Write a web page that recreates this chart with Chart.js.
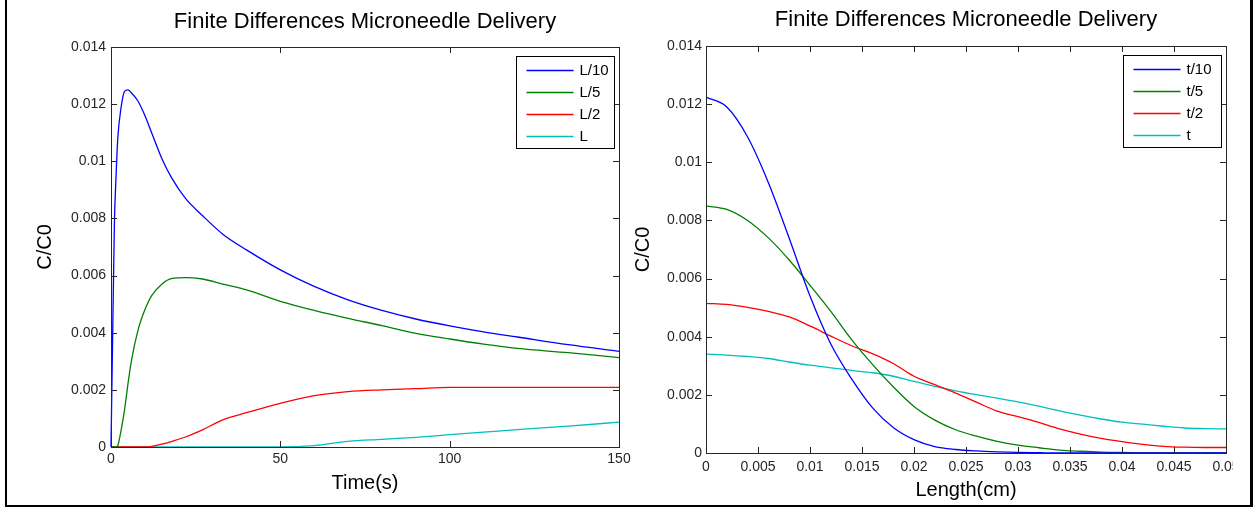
<!DOCTYPE html>
<html>
<head>
<meta charset="utf-8">
<title>Finite Differences Microneedle Delivery</title>
<script src="https://cdn.jsdelivr.net/npm/chart.js@4.4.1/dist/chart.umd.min.js"></script>
<style>
  html, body { margin: 0; padding: 0; background: #fff; }
  #page { position: relative; width: 1259px; height: 508px; overflow: hidden; background: #fff; }
  #frame { position: absolute; left: 5px; top: -10px; width: 1243px; height: 513px;
           border: 2px solid #000; border-right-width: 3px; }
  canvas { position: absolute; top: 0; }
  #timeChart { left: 0; }
  #lengthChart { left: 620px; }
</style>
</head>
<body>
<div id="page">
  <div id="frame"></div>
  <canvas id="timeChart" width="640" height="508" style="width:640px;height:508px"></canvas>
  <canvas id="lengthChart" width="613" height="508" style="width:613px;height:508px"></canvas>
</div>
<script>
// ---- left plot: concentration vs time at four depths ----
var time = [0, 0.5, 1, 1.5, 2, 3, 4, 5, 6, 8, 10, 12, 15, 18, 22, 27, 33, 40, 50, 60, 70, 80, 90, 100, 110, 120, 135, 150];
var depthL10 = [0, 0.004, 0.0078, 0.0095, 0.0108, 0.0119, 0.01245, 0.0125, 0.0124, 0.0121, 0.0116, 0.011, 0.0101, 0.0094, 0.0087, 0.0081, 0.00745, 0.0069, 0.0062, 0.00562, 0.00515, 0.00478, 0.00448, 0.00424, 0.00403, 0.00385, 0.00358, 0.00335];
var depthL5 = [0, 0, 0, 0, 0.00005, 0.0006, 0.0013, 0.0022, 0.003, 0.0041, 0.0048, 0.0053, 0.0057, 0.0059, 0.00593, 0.00588, 0.0057, 0.0055, 0.0051, 0.00478, 0.0045, 0.00425, 0.00398, 0.00378, 0.0036, 0.00345, 0.0033, 0.00313];
var depthL2 = [0, 0, 0, 0, 0, 0, 0, 0, 0, 0, 0, 0.00002, 0.0001, 0.0002, 0.00035, 0.0006, 0.00095, 0.0012, 0.00153, 0.0018, 0.00194, 0.002, 0.00204, 0.00209, 0.00209, 0.00209, 0.00209, 0.00209];
var depthL = [0, 0, 0, 0, 0, 0, 0, 0, 0, 0, 0, 0, 0, 0, 0, 0, 0, 0, 0, 0.00005, 0.0002, 0.00027, 0.00034, 0.00043, 0.00052, 0.00061, 0.00073, 0.00087];

// ---- right plot: concentration profile along the needle at four times ----
var len = [0, 0.002, 0.004, 0.006, 0.008, 0.01, 0.012, 0.014, 0.016, 0.018, 0.02, 0.022, 0.024, 0.026, 0.028, 0.03, 0.032, 0.034, 0.036, 0.038, 0.04, 0.042, 0.044, 0.046, 0.048, 0.05];
var timeT10 = [0.01224, 0.0119, 0.01087, 0.0093, 0.00739, 0.0054, 0.00375, 0.00255, 0.00156, 0.00088, 0.00046, 0.00022, 0.00012, 0.00007, 0.00004, 0.00002, 0.00001, 0, 0, 0, 0, 0, 0, 0, 0, 0];
var timeT5 = [0.0085, 0.00838, 0.008, 0.0074, 0.00664, 0.00577, 0.00487, 0.0039, 0.00305, 0.00228, 0.0016, 0.00113, 0.0008, 0.00058, 0.0004, 0.00027, 0.00018, 0.0001, 0.00006, 0.00003, 0.00002, 0, 0, 0, 0, 0];
var timeT2 = [0.00515, 0.00511, 0.00501, 0.00487, 0.00468, 0.00437, 0.00402, 0.00369, 0.00342, 0.00308, 0.00264, 0.00235, 0.00206, 0.00175, 0.00144, 0.00125, 0.00105, 0.00083, 0.00065, 0.0005, 0.00039, 0.0003, 0.00023, 0.0002, 0.00019, 0.00019];
var timeT = [0.0034, 0.00337, 0.00332, 0.00325, 0.00313, 0.00302, 0.00293, 0.00284, 0.00276, 0.00264, 0.00246, 0.00229, 0.00214, 0.00201, 0.00189, 0.00176, 0.00161, 0.00145, 0.0013, 0.00117, 0.00106, 0.00099, 0.00092, 0.00086, 0.00084, 0.00083];

// ---- ticks ----
var yTickLabels = ['0', '0.002', '0.004', '0.006', '0.008', '0.01', '0.012', '0.014'];
var timeTickLabels = ['0', '50', '100', '150'];
var lenTickLabels = ['0', '0.005', '0.01', '0.015', '0.02', '0.025', '0.03', '0.035', '0.04', '0.045', '0.05'];

var colors = ['#0000ff', '#008000', '#ff0000', '#00bfbf'];
var ink = '#262626';

Chart.defaults.font.family = "'Liberation Sans', Arial, Helvetica, sans-serif";
Chart.defaults.color = ink;

function pairs(xs, ys) {
  return xs.map(function (x, i) { return { x: x, y: ys[i] }; });
}

function series(label, xs, ys, color) {
  return {
    label: label,
    data: pairs(xs, ys),
    borderColor: color,
    backgroundColor: color,
    borderWidth: 1.3,
    pointRadius: 0,
    cubicInterpolationMode: 'monotone',
    clip: 3
  };
}

// matlab style box, inward ticks on all four sides, legend inside top right
var matlabBox = {
  id: 'matlabBox',
  afterDraw: function (chart) {
    var ctx = chart.ctx, a = chart.chartArea;
    var xs = chart.scales.x, ys = chart.scales.y;
    ctx.save();
    ctx.strokeStyle = ink;
    ctx.lineWidth = 1;
    ctx.beginPath();
    xs.ticks.forEach(function (t) {
      var px = Math.round(xs.getPixelForValue(t.value)) + 0.5;
      ctx.moveTo(px, a.bottom); ctx.lineTo(px, a.bottom - 6);
      ctx.moveTo(px, a.top); ctx.lineTo(px, a.top + 6);
    });
    ys.ticks.forEach(function (t) {
      var py = Math.round(ys.getPixelForValue(t.value)) + 0.5;
      ctx.moveTo(a.left, py); ctx.lineTo(a.left + 6, py);
      ctx.moveTo(a.right, py); ctx.lineTo(a.right - 6, py);
    });
    ctx.stroke();
    ctx.strokeRect(Math.round(a.left) + 0.5, Math.round(a.top) + 0.5,
      Math.round(a.right - a.left), Math.round(a.bottom - a.top));

    // legend
    var w = 98, h = 92;
    var bx = Math.round(a.right - 5 - w) + 0.5, by = Math.round(a.top + 9) + 0.5;
    ctx.fillStyle = '#fff';
    ctx.fillRect(bx, by, w, h);
    ctx.strokeStyle = '#000';
    ctx.strokeRect(bx, by, w, h);
    ctx.font = "15px 'Liberation Sans', Arial, sans-serif";
    ctx.textBaseline = 'middle';
    ctx.textAlign = 'left';
    chart.data.datasets.forEach(function (ds, i) {
      var ry = Math.round(by + 13 + i * 22) + 0.5;
      ctx.strokeStyle = ds.borderColor;
      ctx.lineWidth = 1.5;
      ctx.beginPath();
      ctx.moveTo(bx + 10, ry); ctx.lineTo(bx + 57, ry);
      ctx.stroke();
      ctx.fillStyle = '#000';
      ctx.fillText(ds.label, bx + 63, ry);
    });
    ctx.restore();
  }
};

function makeChart(id, o) {
  return new Chart(document.getElementById(id), {
    type: 'line',
    data: { datasets: o.datasets },
    plugins: [matlabBox],
    options: {
      responsive: false,
      animation: false,
      layout: { padding: { left: 0, right: o.padRight, top: 0, bottom: 0 } },
      plugins: {
        legend: { display: false },
        tooltip: { enabled: false },
        title: {
          display: true,
          text: 'Finite Differences Microneedle Delivery',
          fullSize: false,
          color: '#000',
          font: { size: 22, weight: 'normal', lineHeight: 1.1 },
          padding: o.titlePad
        }
      },
      scales: {
        x: {
          type: 'linear',
          min: o.xMin, max: o.xMax,
          grid: { display: false, drawTicks: false },
          border: { display: false },
          afterBuildTicks: function (s) {
            s.ticks = o.xLabels.map(function (l) { return { value: parseFloat(l) }; });
          },
          ticks: {
            autoSkip: false, maxRotation: 0, padding: o.xTickPad,
            font: { size: 14 },
            callback: function (v, i) { return o.xLabels[i]; }
          },
          title: {
            display: true, text: o.xTitle, color: '#000',
            font: { size: 20 },
            padding: { top: 0, bottom: o.xTitleBottom }
          },
          afterFit: function (s) { s.height = o.xHeight; s.paddingLeft = 0; s.paddingRight = 0; }
        },
        y: {
          type: 'linear',
          min: 0, max: 0.014,
          grid: { display: false, drawTicks: false },
          border: { display: false },
          afterBuildTicks: function (s) {
            s.ticks = yTickLabels.map(function (l) { return { value: parseFloat(l) }; });
          },
          ticks: {
            autoSkip: false, padding: o.yTickPad,
            font: { size: 14 },
            callback: function (v, i) { return yTickLabels[i]; }
          },
          title: {
            display: true, text: 'C/C0', color: '#000',
            font: { size: 20 },
            padding: { top: o.yTitleTop, bottom: 0 }
          },
          afterFit: function (s) { s.width = o.yWidth; }
        }
      }
    }
  });
}

makeChart('timeChart', {
  datasets: [
    series('L/10', time, depthL10, colors[0]),
    series('L/5', time, depthL5, colors[1]),
    series('L/2', time, depthL2, colors[2]),
    series('L', time, depthL, colors[3])
  ],
  padRight: 21,
  titlePad: { top: 10, bottom: 12.8 },
  xMin: 0, xMax: 150, xLabels: timeTickLabels, xTitle: 'Time(s)',
  xTickPad: 4, xTitleBottom: 13, xHeight: 61,
  yTickPad: 5, yTitleTop: 33, yWidth: 111
});

makeChart('lengthChart', {
  datasets: [
    series('t/10', len, timeT10, colors[0]),
    series('t/5', len, timeT5, colors[1]),
    series('t/2', len, timeT2, colors[2]),
    series('t', len, timeT, colors[3])
  ],
  padRight: 7,
  titlePad: { top: 8, bottom: 13.8 },
  xMin: 0, xMax: 0.05, xLabels: lenTickLabels, xTitle: 'Length(cm)',
  xTickPad: 6, xTitleBottom: 6, xHeight: 55,
  yTickPad: 4, yTitleTop: 11, yWidth: 86
});
</script>
</body>
</html>
